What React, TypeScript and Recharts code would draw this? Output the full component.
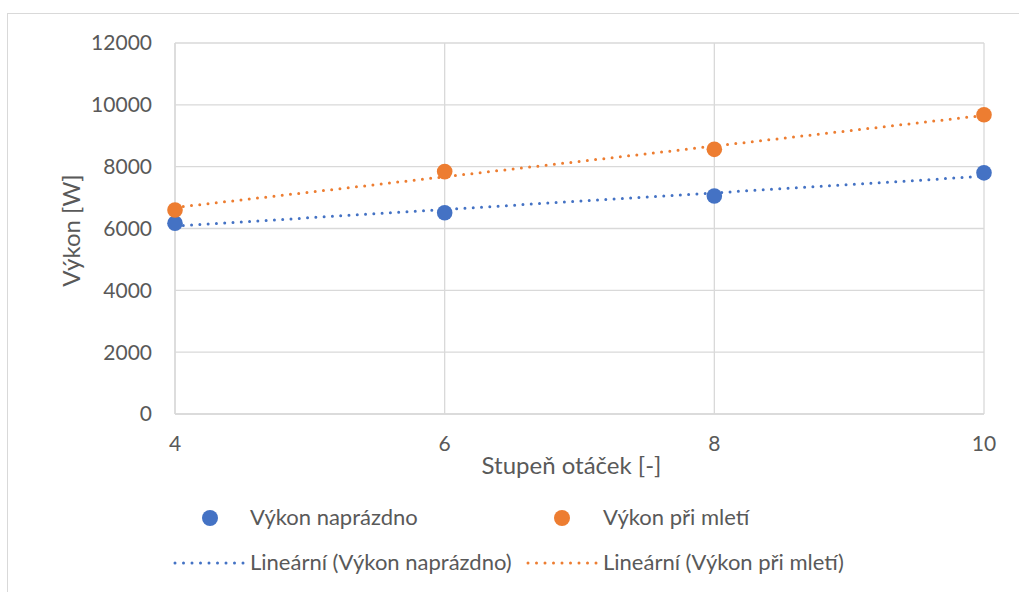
import React from 'react';
import {
    ComposedChart,
    Scatter,
    Line,
    XAxis,
    YAxis,
    CartesianGrid,
    Label,
} from 'recharts';

// stupeň otáček
const stupne = [4, 6, 8, 10];
// naměřené výkony [W]
const vykonNaprazdno = [6170, 6510, 7050, 7800];
const vykonPriMleti = [6600, 7840, 8560, 9680];
// lineární trend, hodnoty na krajích (stupeň 4 a 10)
const trendX = [4, 10];
const trendNaprazdno = [6080, 7690];
const trendPriMleti = [6680, 9660];

const yTicks = [0, 2000, 4000, 6000, 8000, 10000, 12000];

const BLUE = '#4472C4';
const ORANGE = '#ED7D31';
const GRID = '#d9d9d9';
const TEXT = '#595959';
const FONT = 'Lato, "Open Sans", sans-serif';

const bodyNaprazdno = stupne.map((x, i) => ({ x, y: vykonNaprazdno[i] }));
const bodyPriMleti = stupne.map((x, i) => ({ x, y: vykonPriMleti[i] }));
const linNaprazdno = trendX.map((x, i) => ({ x, y: trendNaprazdno[i] }));
const linPriMleti = trendX.map((x, i) => ({ x, y: trendPriMleti[i] }));

const tickStyle = { fill: TEXT, fontSize: 21, fontFamily: FONT };

function YTitle(props: any) {
    const { viewBox } = props;
    const cx = viewBox.x + 5;
    const cy = viewBox.y + viewBox.height / 2 + 2;
    return (
        <text
            x={cx}
            y={cy}
            transform={`rotate(-90, ${cx}, ${cy})`}
            textAnchor="middle"
            fill={TEXT}
            fontSize={24}
            fontFamily={FONT}
        >
            Výkon [W]
        </text>
    );
}

function XTitle(props: any) {
    const { viewBox } = props;
    return (
        <text
            x={viewBox.x + viewBox.width / 2 - 8}
            y={viewBox.y + 60}
            textAnchor="middle"
            fill={TEXT}
            fontSize={24}
            fontFamily={FONT}
        >
            Stupeň otáček [-]
        </text>
    );
}

function Dots({ color }: { color: string }) {
    return (
        <svg width={74} height={8} style={{ position: 'absolute', left: 0, top: -4 }}>
            <line x1={2} y1={4} x2={71} y2={4} stroke={color} strokeWidth={3}
                strokeDasharray="0 8.5" strokeLinecap="round" />
        </svg>
    );
}

const legendText: React.CSSProperties = {
    position: 'absolute',
    fontFamily: FONT,
    fontSize: 22,
    color: TEXT,
    lineHeight: '26px',
    whiteSpace: 'nowrap',
};

const dot = (left: number, color: string): React.CSSProperties => ({
    position: 'absolute',
    left: left - 8,
    top: 518 - 8,
    width: 16,
    height: 16,
    borderRadius: 8,
    background: color,
});

export default function App() {
    return (
        <div style={{ position: 'absolute', left: 0, top: 0, width: 1019, height: 592, background: '#fff', overflow: 'hidden' }}>
            <div style={{ position: 'absolute', left: 7, top: 13, width: 1100, height: 700, border: `1.5px solid ${GRID}` }} />
            <div style={{ position: 'absolute', left: 0, top: 0 }}>
                <ComposedChart
                    width={1019}
                    height={592}
                    margin={{ top: 43, right: 35, bottom: 114, left: 75 }}
                >
                    <CartesianGrid stroke={GRID} strokeWidth={1.3} />
                    <XAxis
                        dataKey="x"
                        type="number"
                        domain={[4, 10]}
                        ticks={stupne}
                        height={64}
                        axisLine={{ stroke: GRID, strokeWidth: 1.3 }}
                        tickLine={false}
                        tickSize={0}
                        tickMargin={22}
                        tick={tickStyle}
                    >
                        <Label content={<XTitle />} />
                    </XAxis>
                    <YAxis
                        dataKey="y"
                        type="number"
                        domain={[0, 12000]}
                        ticks={yTicks}
                        width={100}
                        axisLine={{ stroke: GRID, strokeWidth: 1.3 }}
                        tickLine={false}
                        tickSize={0}
                        tickMargin={23}
                        tick={tickStyle}
                    >
                        <Label content={<YTitle />} />
                    </YAxis>
                    <Line
                        data={linNaprazdno}
                        dataKey="y"
                        stroke={BLUE}
                        strokeWidth={3}
                        strokeDasharray="0 8.3"
                        strokeLinecap="round"
                        dot={false}
                        activeDot={false}
                        isAnimationActive={false}
                    />
                    <Line
                        data={linPriMleti}
                        dataKey="y"
                        stroke={ORANGE}
                        strokeWidth={3}
                        strokeDasharray="0 8.3"
                        strokeLinecap="round"
                        dot={false}
                        activeDot={false}
                        isAnimationActive={false}
                    />
                    <Scatter
                        data={bodyNaprazdno}
                        dataKey="y"
                        fill={BLUE}
                        shape={(p: any) => <circle cx={p.cx} cy={p.cy} r={7.8} fill={BLUE} />}
                        isAnimationActive={false}
                    />
                    <Scatter
                        data={bodyPriMleti}
                        dataKey="y"
                        fill={ORANGE}
                        shape={(p: any) => <circle cx={p.cx} cy={p.cy} r={7.8} fill={ORANGE} />}
                        isAnimationActive={false}
                    />
                </ComposedChart>
            </div>

            {/* legenda */}
            <div style={dot(210, BLUE)} />
            <div style={{ ...legendText, left: 250, top: 504 }}>Výkon naprázdno</div>
            <div style={dot(562, ORANGE)} />
            <div style={{ ...legendText, left: 603, top: 504 }}>Výkon při mletí</div>

            <div style={{ position: 'absolute', left: 173, top: 563 }}><Dots color={BLUE} /></div>
            <div style={{ ...legendText, left: 250, top: 549 }}>Lineární (Výkon naprázdno)</div>
            <div style={{ position: 'absolute', left: 526, top: 563 }}><Dots color={ORANGE} /></div>
            <div style={{ ...legendText, left: 603, top: 549 }}>Lineární (Výkon při mletí)</div>
        </div>
    );
}
